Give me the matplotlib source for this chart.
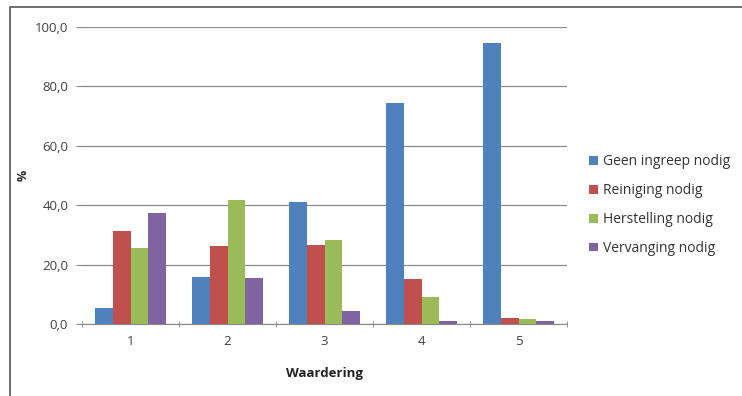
import matplotlib
matplotlib.use("Agg")
import matplotlib.pyplot as plt
import numpy as np
from matplotlib.patches import Rectangle

categories = ["1", "2", "3", "4", "5"]
series_names = [
    "Geen ingreep nodig",
    "Reiniging nodig",
    "Herstelling nodig",
    "Vervanging nodig",
]
geen_ingreep = [5.4, 15.9, 41.1, 74.5, 94.5]
reiniging = [31.3, 26.3, 26.6, 15.0, 2.1]
herstelling = [25.7, 41.8, 28.1, 8.9, 1.6]
vervanging = [37.3, 15.3, 4.2, 1.1, 1.0]
yticks = [0, 20, 40, 60, 80, 100]

colors = ["#4F81BD", "#C0504D", "#9BBB59", "#8064A2"]

plt.rcParams["font.family"] = ["Open Sans", "DejaVu Sans"]

fig = plt.figure(figsize=(7.42, 3.96), dpi=100)
ax = fig.add_axes([0.1105, 0.182, 0.654, 0.75])

x = np.arange(len(categories))
bar_w = 0.183
all_series = [geen_ingreep, reiniging, herstelling, vervanging]
for i, (vals, name) in enumerate(zip(all_series, series_names)):
    ax.bar(x + (i - 1.5) * bar_w, vals, width=bar_w, color=colors[i],
           label=name, zorder=3)

ax.set_xlim(-0.5, len(categories) - 0.5)
ax.set_ylim(0, 100)
ax.set_yticks(yticks)
ax.set_yticklabels([f"{v:.1f}".replace(".", ",") for v in yticks],
                   fontsize=9.5, color="#404040")
ax.set_xticks(x)
ax.set_xticklabels(categories, fontsize=9.5, color="#404040")
ax.set_xticks(np.arange(-0.5, len(categories), 1.0), minor=True)
ax.tick_params(axis="x", which="major", length=0, pad=8)
ax.tick_params(axis="x", which="minor", length=4, direction="inout", color="#888888")
ax.tick_params(axis="y", length=4, color="#888888", pad=6)

ax.grid(axis="y", color="#8c8c8c", linewidth=0.9, zorder=0)
for side in ["top", "right", "left"]:
    ax.spines[side].set_visible(False)
ax.spines["bottom"].set_color("#888888")

ax.set_ylabel("%", fontsize=9, fontweight="bold", color="#222222", labelpad=4)
ax.set_xlabel("Waardering", fontsize=9.5, fontweight="bold", color="#222222", labelpad=14)

ax.legend(loc="center left", bbox_to_anchor=(1.02, 0.40), frameon=False,
          fontsize=10, handlelength=0.6, handleheight=0.6, handletextpad=0.4,
          labelspacing=1.0, labelcolor="#333333")

# outer frame, cut at right and bottom
fig.patches.append(Rectangle((10 / 742, -0.1), 1.2, 0.1 + (396 - 7) / 396,
                             transform=fig.transFigure, fill=False,
                             edgecolor="#555555", linewidth=1.2))

fig.savefig("out.png", dpi=100)
